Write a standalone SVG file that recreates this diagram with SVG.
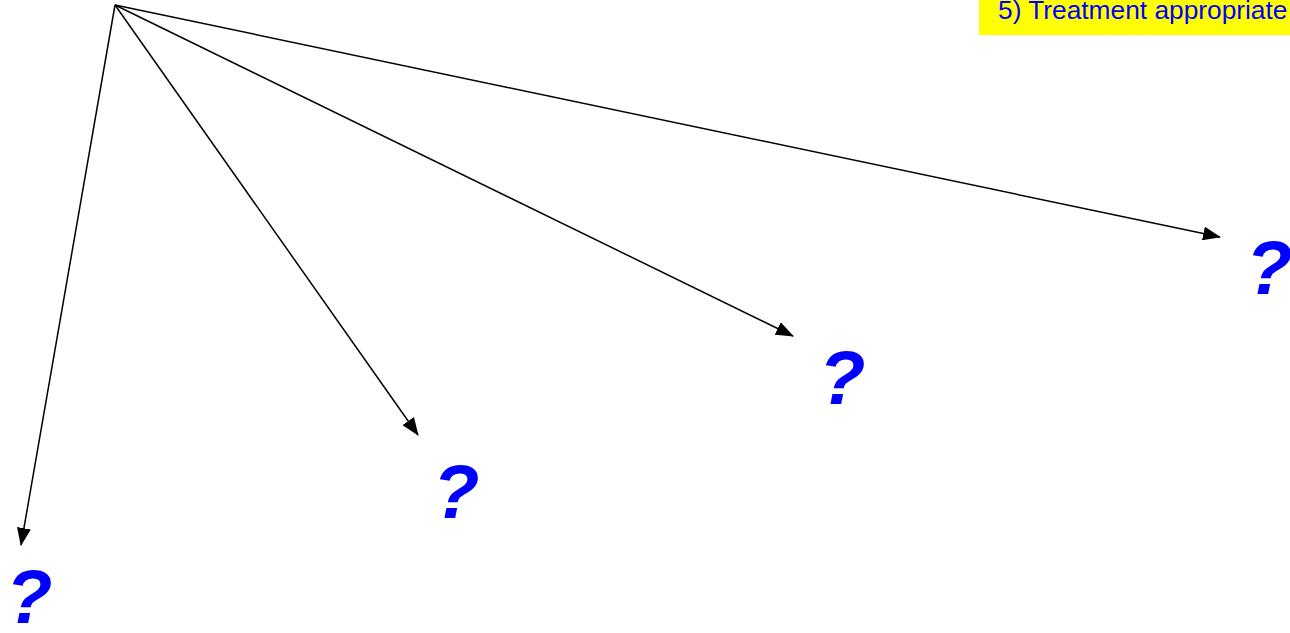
<svg xmlns="http://www.w3.org/2000/svg" width="1290" height="633" viewBox="0 0 1290 633">
<style>
.q{font-family:"Liberation Sans",Arial,sans-serif;font-weight:bold;font-style:italic;font-size:76px;fill:#0000ff}
.c{stroke:#000;stroke-width:1.5;fill:none;marker-end:url(#ah)}
.lbl{font-family:"Liberation Sans",Arial,sans-serif;font-size:26.3px;fill:#0000ff}
</style>
<defs>
<marker id="ah" markerUnits="userSpaceOnUse" markerWidth="18" markerHeight="14" refX="17" refY="7" orient="auto" viewBox="0 0 18 14">
<path d="M0,0 L18,7 L0,14 Z" fill="#000"/>
</marker>
</defs>
<rect width="1290" height="633" fill="#fff"/>
<g id="label5">
<rect x="979" y="0" width="311" height="35" fill="#ffff00"/>
<text class="lbl" x="998" y="19">5) Treatment appropriate</text>
</g>
<g id="connectors">
<line class="c" x1="115" y1="5" x2="21" y2="545"/>
<line class="c" x1="115" y1="5" x2="418" y2="435"/>
<line class="c" x1="115" y1="5" x2="793" y2="336"/>
<line class="c" x1="115" y1="5" x2="1220" y2="237"/>
</g>
<g id="q1"><text class="q" x="6" y="623">?</text></g>
<g id="q2"><text class="q" x="433" y="518">?</text></g>
<g id="q3"><text class="q" x="819" y="404">?</text></g>
<g id="q4"><text class="q" x="1246" y="294">?</text></g>
</svg>
